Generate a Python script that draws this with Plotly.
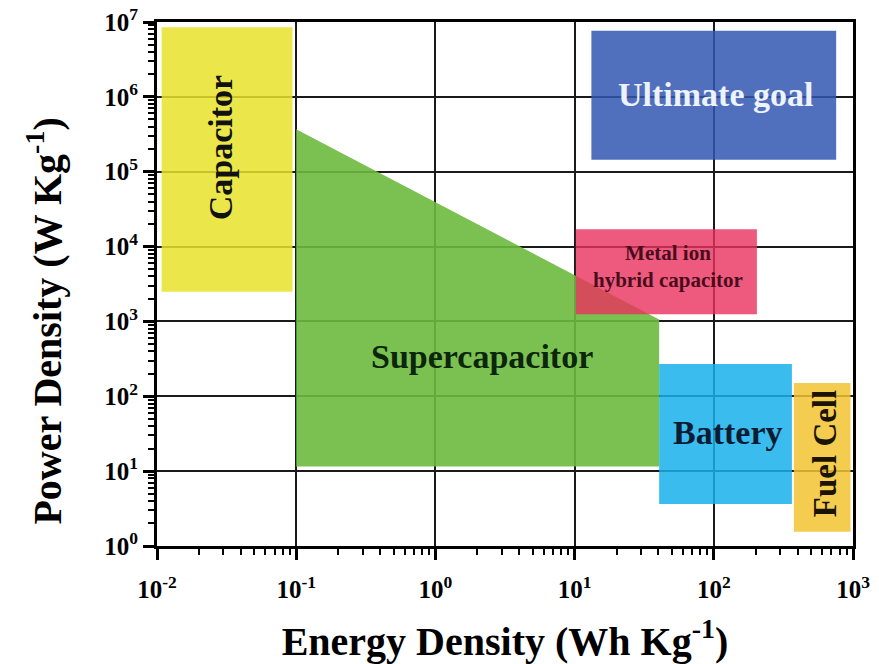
import numpy as np
import plotly.graph_objects as go

# ---- data (Energy density in Wh/kg, Power density in W/kg) ----
capacitor_energy = [0.0108, 0.094]
capacitor_power = [2.5e3, 8.5e6]

supercap_energy = [0.1, 40.5, 40.5, 0.1, 0.1]
supercap_power = [3.7e5, 1.06e3, 11.5, 11.5, 3.7e5]

hybrid_energy = [10.2, 204]
hybrid_power = [1.25e3, 1.7e4]

goal_energy = [13.2, 757]
goal_power = [1.44e5, 7.65e6]

battery_energy = [40.5, 364]
battery_power = [3.64, 269]

fuelcell_energy = [376, 960]
fuelcell_power = [1.55, 150]

x_tickvals = [1e-2, 1e-1, 1e0, 1e1, 1e2, 1e3]
x_ticktext = ["10<sup>-2</sup>", "10<sup>-1</sup>", "10<sup>0</sup>",
              "10<sup>1</sup>", "10<sup>2</sup>", "10<sup>3</sup>"]
y_tickvals = [1e0, 1e1, 1e2, 1e3, 1e4, 1e5, 1e6, 1e7]
y_ticktext = ["10<sup>0</sup>", "10<sup>1</sup>", "10<sup>2</sup>", "10<sup>3</sup>",
              "10<sup>4</sup>", "10<sup>5</sup>", "10<sup>6</sup>", "10<sup>7</sup>"]

# label texts and anchor points (data coords)
label_text = ["Capacitor", "Supercapacitor", "Metal ion<br>hybrid capacitor",
              "Ultimate goal", "Battery", "Fuel Cell"]
label_energy = [0.029, 2.15, 46.6, 103, 126, 624]
label_power = [2.08e5, 337, 5.36e3, 1.06e6, 32.6, 17.1]

x_title = "Energy Density (Wh Kg<sup>-1</sup>)"
y_title = "Power Density (W Kg<sup>-1</sup>)"

FONT = "Liberation Serif, Times New Roman, serif"


def rect(xr, yr):
    return ([xr[0], xr[1], xr[1], xr[0], xr[0]],
            [yr[0], yr[0], yr[1], yr[1], yr[0]])


fig = go.Figure()

regions = [
    (rect(capacitor_energy, capacitor_power), "rgba(231,227,42,0.85)"),
    ((supercap_energy, supercap_power), "rgba(109,186,63,0.9)"),
    (rect(hybrid_energy, hybrid_power), "rgba(234,49,93,0.8)"),
    (rect(goal_energy, goal_power), "rgba(49,87,178,0.85)"),
    (rect(battery_energy, battery_power), "rgba(24,177,235,0.85)"),
    (rect(fuelcell_energy, fuelcell_power), "rgba(242,195,49,0.85)"),
]
for (xs, ys), col in regions:
    fig.add_trace(go.Scatter(x=xs, y=ys, mode="lines", fill="toself",
                             fillcolor=col, line=dict(width=0, color=col),
                             hoverinfo="skip", showlegend=False))

label_style = [
    dict(size=34, color="#111111", angle=-90),
    dict(size=34, color="#0b260b", angle=0),
    dict(size=21, color="#4a0c1c", angle=0),
    dict(size=34, color="#eef2fb", angle=0),
    dict(size=34, color="#0a1c33", angle=0),
    dict(size=33, color="#1a1400", angle=-90),
]
for t, ex, py, st in zip(label_text, label_energy, label_power, label_style):
    fig.add_annotation(x=np.log10(ex), y=np.log10(py), text=t, showarrow=False,
                       textangle=st["angle"],
                       font=dict(family=FONT, size=st["size"], color=st["color"],
                                 weight="bold"))

# y-axis title (placed as in the reference, slightly below the plot centre)
fig.add_annotation(xref="paper", yref="paper", x=-0.161, y=0.43, text=y_title,
                   showarrow=False, textangle=-90, xanchor="center", yanchor="middle",
                   font=dict(family=FONT, size=40, color="black", weight="bold"))

axis_common = dict(
    type="log", showline=True, linewidth=3, linecolor="black", mirror=True,
    showgrid=True, gridcolor="#1a1a1a", gridwidth=2,
    ticks="outside", ticklen=11, tickwidth=3, tickcolor="black",
    tickfont=dict(family=FONT, size=25, color="black", weight="bold"),
    minor=dict(ticks="outside", ticklen=6, tickwidth=2, tickcolor="black",
               dtick="D1", showgrid=False),
    zeroline=False, automargin=False,
)

fig.update_xaxes(**axis_common, range=[-2, 3], tickvals=x_tickvals, ticktext=x_ticktext,
                 ticklabelstandoff=8,
                 title=dict(text=x_title, standoff=26,
                            font=dict(family=FONT, size=40, color="black", weight="bold")))
fig.update_yaxes(**axis_common, range=[0, 7], tickvals=y_tickvals, ticktext=y_ticktext)

fig.update_layout(
    width=879, height=664,
    margin=dict(l=157, r=26, t=22, b=118),
    paper_bgcolor="white", plot_bgcolor="white",
    showlegend=False,
)

fig.write_html("out.html")
